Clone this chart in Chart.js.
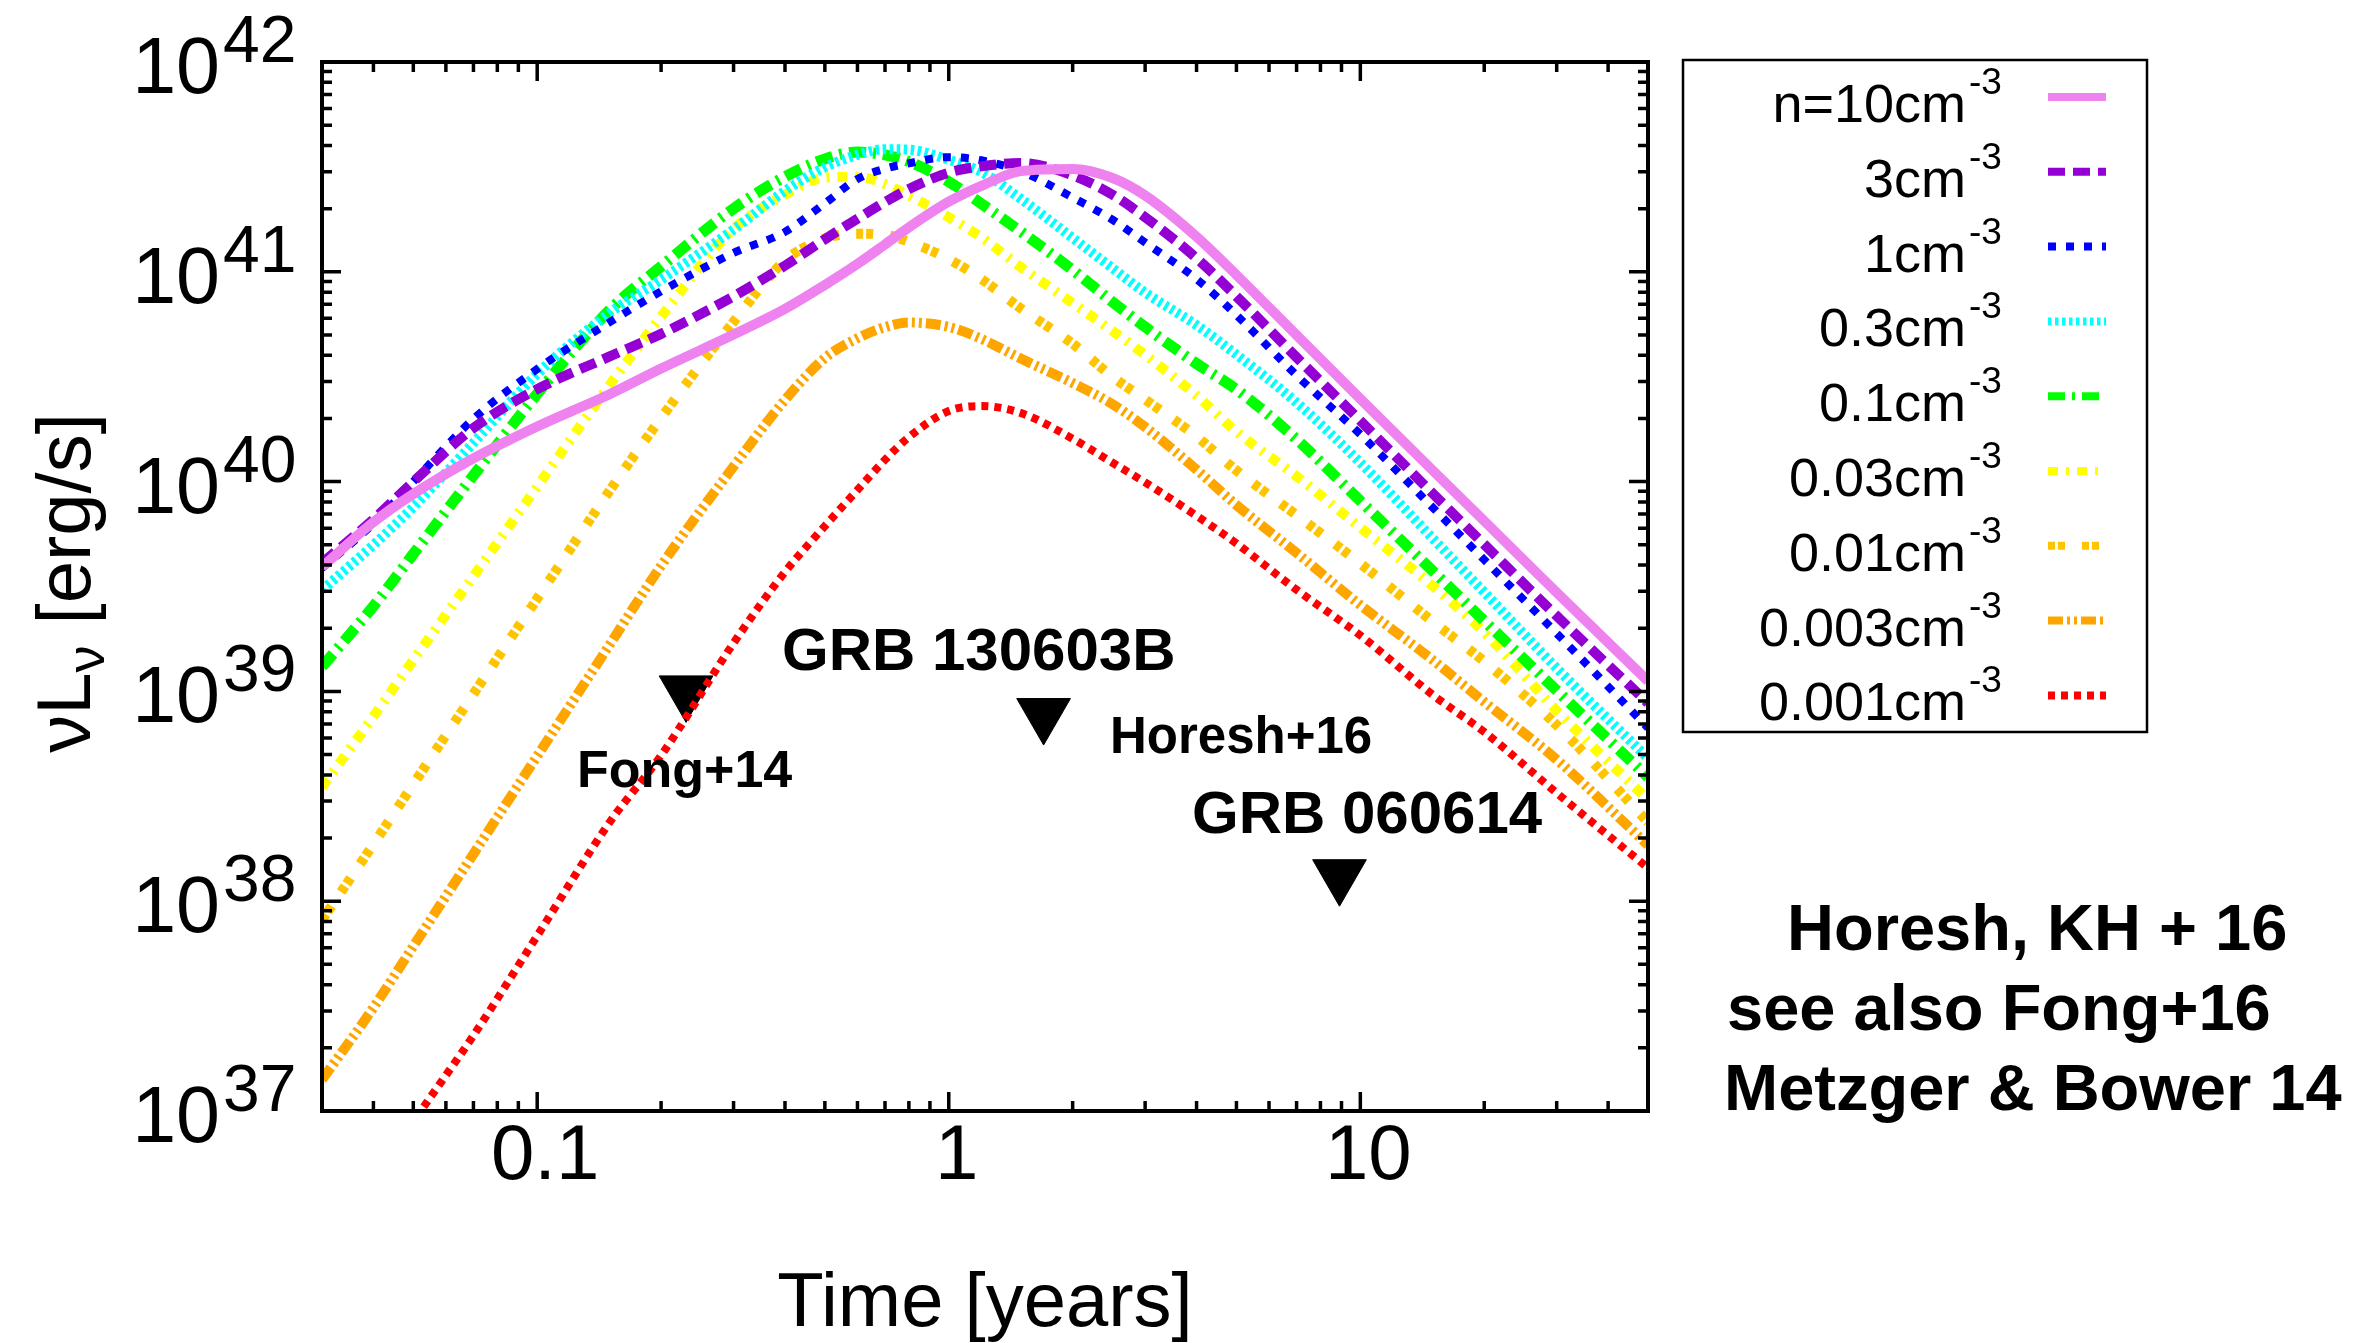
<!DOCTYPE html>
<html>
<head>
<meta charset="utf-8">
<title>Radio light curves vs ambient density</title>
<script src="https://cdn.jsdelivr.net/npm/chart.js@4.4.0/dist/chart.umd.min.js"></script>
<style>
  html, body { margin: 0; padding: 0; background: #fff; }
  #wrap { width: 2375px; height: 1343px; }
</style>
</head>
<body>
<div id="wrap"><canvas id="lc" width="2375" height="1343"></canvas></div>
<script>
// time grid [years]
var years = [0.03, 0.04, 0.05, 0.07, 0.1, 0.15, 0.2, 0.3, 0.4, 0.5, 0.6, 0.7, 0.8,
             1, 1.2, 1.5, 2, 2.5, 3, 4, 5, 7, 10, 15, 20, 30, 50];

// nuLnu [erg/s] for each ambient density n
var lumN10    = [3.92e39, 6.41e39, 8.73e39, 1.29e40, 1.83e40, 2.61e40, 3.46e40, 5.02e40, 6.65e40, 8.65e40, 1.09e41, 1.35e41, 1.63e41,
                 2.16e41, 2.57e41, 3.02e41, 3.09e41, 2.80e41, 2.31e41, 1.47e41, 9.66e40, 4.99e40, 2.48e40, 1.13e40, 6.49e39, 2.96e39, 1.12e39];
var lumN3     = [4.09e39, 6.61e39, 9.98e39, 1.80e40, 2.76e40, 3.95e40, 5.06e40, 7.64e40, 1.07e41, 1.43e41, 1.79e41, 2.15e41, 2.48e41,
                 2.97e41, 3.18e41, 3.30e41, 2.88e41, 2.33e41, 1.82e41, 1.16e41, 7.64e40, 3.91e40, 1.95e40, 8.77e39, 5.02e39, 2.29e39, 8.8e38];
var lumN1     = [3.87e39, 6.31e39, 1.00e40, 1.99e40, 3.44e40, 5.75e40, 8.07e40, 1.23e41, 1.55e41, 2.12e41, 2.77e41, 3.10e41, 3.29e41,
                 3.52e41, 3.40e41, 3.01e41, 2.26e41, 1.77e41, 1.38e41, 9.23e40, 6.22e40, 3.21e40, 1.68e40, 7.52e39, 4.24e39, 1.89e39, 6.7e38];
var lumN03    = [3.04e39, 4.99e39, 7.57e39, 1.53e40, 3.26e40, 6.37e40, 9.18e40, 1.59e41, 2.43e41, 3.15e41, 3.61e41, 3.84e41, 3.82e41,
                 3.42e41, 2.99e41, 2.22e41, 1.45e41, 1.04e41, 7.96e40, 5.57e40, 4.03e40, 2.38e40, 1.23e40, 5.36e39, 2.97e39, 1.29e39, 4.8e38];
var lumN01    = [1.31e39, 2.55e39, 4.52e39, 1.07e40, 2.62e40, 6.58e40, 1.06e41, 2.00e41, 2.84e41, 3.45e41, 3.72e41, 3.61e41, 3.35e41,
                 2.69e41, 2.11e41, 1.55e41, 1.02e41, 7.18e40, 5.46e40, 3.65e40, 2.75e40, 1.59e40, 8.09e39, 3.75e39, 2.17e39, 1.01e39, 3.9e38];
var lumN003   = [3.50e38, 7.60e38, 1.41e39, 3.54e39, 9.46e39, 2.89e40, 6.12e40, 1.60e41, 2.33e41, 2.81e41, 2.84e41, 2.62e41, 2.31e41,
                 1.82e41, 1.46e41, 1.05e41, 7.10e40, 5.22e40, 4.02e40, 2.57e40, 1.73e40, 1.06e40, 6.03e39, 3.18e39, 1.91e39, 8.09e38, 3.04e38];
var lumN001   = [8.13e37, 1.87e38, 3.61e38, 9.73e38, 2.77e39, 9.06e39, 2.01e40, 5.77e40, 1.13e41, 1.44e41, 1.52e41, 1.50e41, 1.39e41,
                 1.15e41, 9.23e40, 6.67e40, 4.54e40, 3.16e40, 2.46e40, 1.64e40, 1.13e40, 6.92e39, 4.07e39, 2.15e39, 1.39e39, 6.90e38, 2.38e38];
var lumN0003  = [1.41e37, 3.11e37, 6.10e37, 1.68e38, 4.92e38, 1.67e39, 3.97e39, 1.18e40, 2.45e40, 3.88e40, 4.82e40, 5.45e40, 5.73e40,
                 5.46e40, 4.79e40, 3.85e40, 2.95e40, 2.34e40, 1.82e40, 1.14e40, 7.73e39, 4.57e39, 2.58e39, 1.41e39, 8.91e38, 4.73e38, 1.85e38];
var lumN0001  = [2.0e36, 4.54e36, 8.87e36, 2.29e37, 6.84e37, 2.38e38, 4.95e38, 1.70e39, 3.71e39, 6.14e39, 9.12e39, 1.27e40, 1.63e40,
                 2.17e40, 2.29e40, 2.12e40, 1.60e40, 1.23e40, 9.91e39, 6.87e39, 5.07e39, 3.05e39, 1.85e39, 9.62e38, 6.41e38, 3.28e38, 1.44e38];

var densities = ['10', '3', '1', '0.3', '0.1', '0.03', '0.01', '0.003', '0.001'];
var curves = [lumN10, lumN3, lumN1, lumN03, lumN01, lumN003, lumN001, lumN0003, lumN0001];

// radio upper limits (GRB 130603B at two epochs, GRB 060614)
var limitYears = [0.23, 1.7, 8.9];
var limitLum   = [1.0e39, 7.8e38, 1.33e38];

var xMajor = [0.1, 1, 10];
var yExponents = [37, 38, 39, 40, 41, 42];

// line styles, gnuplot-ish
var styles = [
  { color: '#ee82ee', width: 10, dash: [] },
  { color: '#9400d3', width: 10, dash: [17, 8] },
  { color: '#0000ff', width: 8,  dash: [8, 10] },
  { color: '#00ffff', width: 10, dash: [3.5, 3.5] },
  { color: '#00ff00', width: 11, dash: [17, 7, 3, 7] },
  { color: '#ffff00', width: 10, dash: [10, 8, 3, 8] },
  { color: '#ffc400', width: 10, dash: [7, 3, 7, 17] },
  { color: '#ffa500', width: 10, dash: [15, 4, 3, 4, 3, 4] },
  { color: '#ff0000', width: 8,  dash: [7, 6] }
];

var FONT = "'Liberation Sans', Arial, Helvetica, sans-serif";

var datasets = curves.map(function (lum, i) {
  return {
    label: densities[i] + 'cm-3',
    data: years.map(function (t, k) { return { x: t, y: lum[k] }; }),
    borderColor: styles[i].color,
    borderWidth: styles[i].width,
    borderDash: styles[i].dash,
    pointRadius: 0,
    fill: false,
    cubicInterpolationMode: 'monotone',
    clip: 0
  };
});

datasets.push({
  label: 'limits',
  data: limitYears.map(function (t, k) { return { x: t, y: limitLum[k] }; }),
  showLine: false,
  pointStyle: 'triangle',
  rotation: 180,
  pointRadius: 31,
  pointBackgroundColor: '#000',
  pointBorderColor: '#000',
  pointBorderWidth: 1
});

function sup(ctx, base, exp, x, y, baseFont, expFont, rise) {
  // base right-aligned at x, exponent just after it
  ctx.font = baseFont;
  ctx.textAlign = 'right';
  ctx.fillText(base, x, y);
  ctx.font = expFont;
  ctx.textAlign = 'left';
  ctx.fillText(exp, x + 3, y - rise);
}

var gnuplotDecor = {
  id: 'gnuplotDecor',
  afterDatasetsDraw: function (chart) {
    var ctx = chart.ctx, a = chart.chartArea;
    var xs = chart.scales.x, ys = chart.scales.y;
    ctx.save();
    ctx.fillStyle = '#000';
    ctx.strokeStyle = '#000';
    ctx.setLineDash([]);
    ctx.textBaseline = 'alphabetic';

    // tick marks on all four sides
    ctx.lineWidth = 3.5;
    ctx.beginPath();
    for (var d = -2; d <= 1; d++) {
      for (var m = 1; m <= 9; m++) {
        var v = m * Math.pow(10, d);
        if (v < 0.03 || v > 50) continue;
        var px = xs.getPixelForValue(v), len = m === 1 ? 19 : 10;
        ctx.moveTo(px, a.bottom); ctx.lineTo(px, a.bottom - len);
        ctx.moveTo(px, a.top); ctx.lineTo(px, a.top + len);
      }
    }
    for (var e = 37; e <= 42; e++) {
      for (var n = 1; n <= 9; n++) {
        if (e === 42 && n > 1) break;
        var py = ys.getPixelForValue(n * Math.pow(10, e)), l2 = n === 1 ? 19 : 10;
        ctx.moveTo(a.left, py); ctx.lineTo(a.left + l2, py);
        ctx.moveTo(a.right, py); ctx.lineTo(a.right - l2, py);
      }
    }
    ctx.stroke();

    ctx.lineWidth = 4;
    ctx.strokeRect(a.left, a.top, a.right - a.left, a.bottom - a.top);

    // y tick labels 10^n
    yExponents.forEach(function (e) {
      var py = ys.getPixelForValue(Math.pow(10, e));
      sup(ctx, '10', String(e), 220, py + 31, '79px ' + FONT, '66px ' + FONT, 31);
    });

    // x tick labels
    ctx.font = '78px ' + FONT;
    ctx.textAlign = 'center';
    xMajor.forEach(function (v) {
      ctx.fillText(String(v), xs.getPixelForValue(v) + 8, 1179);
    });

    // axis titles
    ctx.font = '76px ' + FONT;
    ctx.textAlign = 'center';
    ctx.fillText('Time [years]', (a.left + a.right) / 2, 1326);

    ctx.save();
    ctx.translate(90, 583);
    ctx.rotate(-Math.PI / 2);
    var big = '76px ' + FONT, small = '54px ' + FONT;
    ctx.font = big;
    var w1 = ctx.measureText('\u03bdL').width;
    var w3 = ctx.measureText(' [erg/s]').width;
    ctx.font = small;
    var w2 = ctx.measureText('\u03bd').width;
    var x0 = -(w1 + w2 + w3) / 2;
    ctx.textAlign = 'left';
    ctx.font = big;
    ctx.fillText('\u03bdL', x0, 0);
    ctx.font = small;
    ctx.fillText('\u03bd', x0 + w1, 14);
    ctx.font = big;
    ctx.fillText(' [erg/s]', x0 + w1 + w2, 0);
    ctx.restore();

    // legend
    ctx.lineWidth = 2.5;
    ctx.strokeRect(1683, 60, 464, 672);
    densities.forEach(function (n, i) {
      var ry = 97 + 74.8 * i;
      ctx.fillStyle = '#000';
      sup(ctx, (i === 0 ? 'n=' : '') + n + 'cm', '-3', 1966, ry + 25, '54px ' + FONT, '37px ' + FONT, 28);
      ctx.save();
      ctx.strokeStyle = styles[i].color;
      ctx.lineWidth = 8;
      ctx.setLineDash(styles[i].dash);
      ctx.beginPath();
      ctx.moveTo(2048, ry);
      ctx.lineTo(2106, ry);
      ctx.stroke();
      ctx.restore();
    });

    // labels on the plot and credits
    ctx.fillStyle = '#000';
    ctx.textAlign = 'left';
    ctx.font = 'bold 52px ' + FONT;
    ctx.fillText('Fong+14', 577, 787);
    ctx.font = 'bold 51px ' + FONT;
    ctx.fillText('Horesh+16', 1110, 753);
    ctx.font = 'bold 60px ' + FONT;
    ctx.fillText('GRB 130603B', 782, 670);
    ctx.fillText('GRB 060614', 1192, 833);
    ctx.font = 'bold 65px ' + FONT;
    ctx.fillText('Horesh, KH + 16', 1787, 950);
    ctx.fillText('see also Fong+16', 1727, 1030);
    ctx.fillText('Metzger & Bower 14', 1724, 1110);
    ctx.restore();
  }
};

new Chart(document.getElementById('lc'), {
  type: 'line',
  data: { datasets: datasets },
  options: {
    responsive: false,
    animation: false,
    devicePixelRatio: 1,
    layout: { padding: { left: 322, top: 62, right: 727, bottom: 232 } },
    plugins: { legend: { display: false }, tooltip: { enabled: false } },
    scales: {
      x: { type: 'logarithmic', min: 0.03, max: 50, display: false },
      y: { type: 'logarithmic', min: 1e37, max: 1e42, display: false }
    }
  },
  plugins: [gnuplotDecor]
});
</script>
</body>
</html>
